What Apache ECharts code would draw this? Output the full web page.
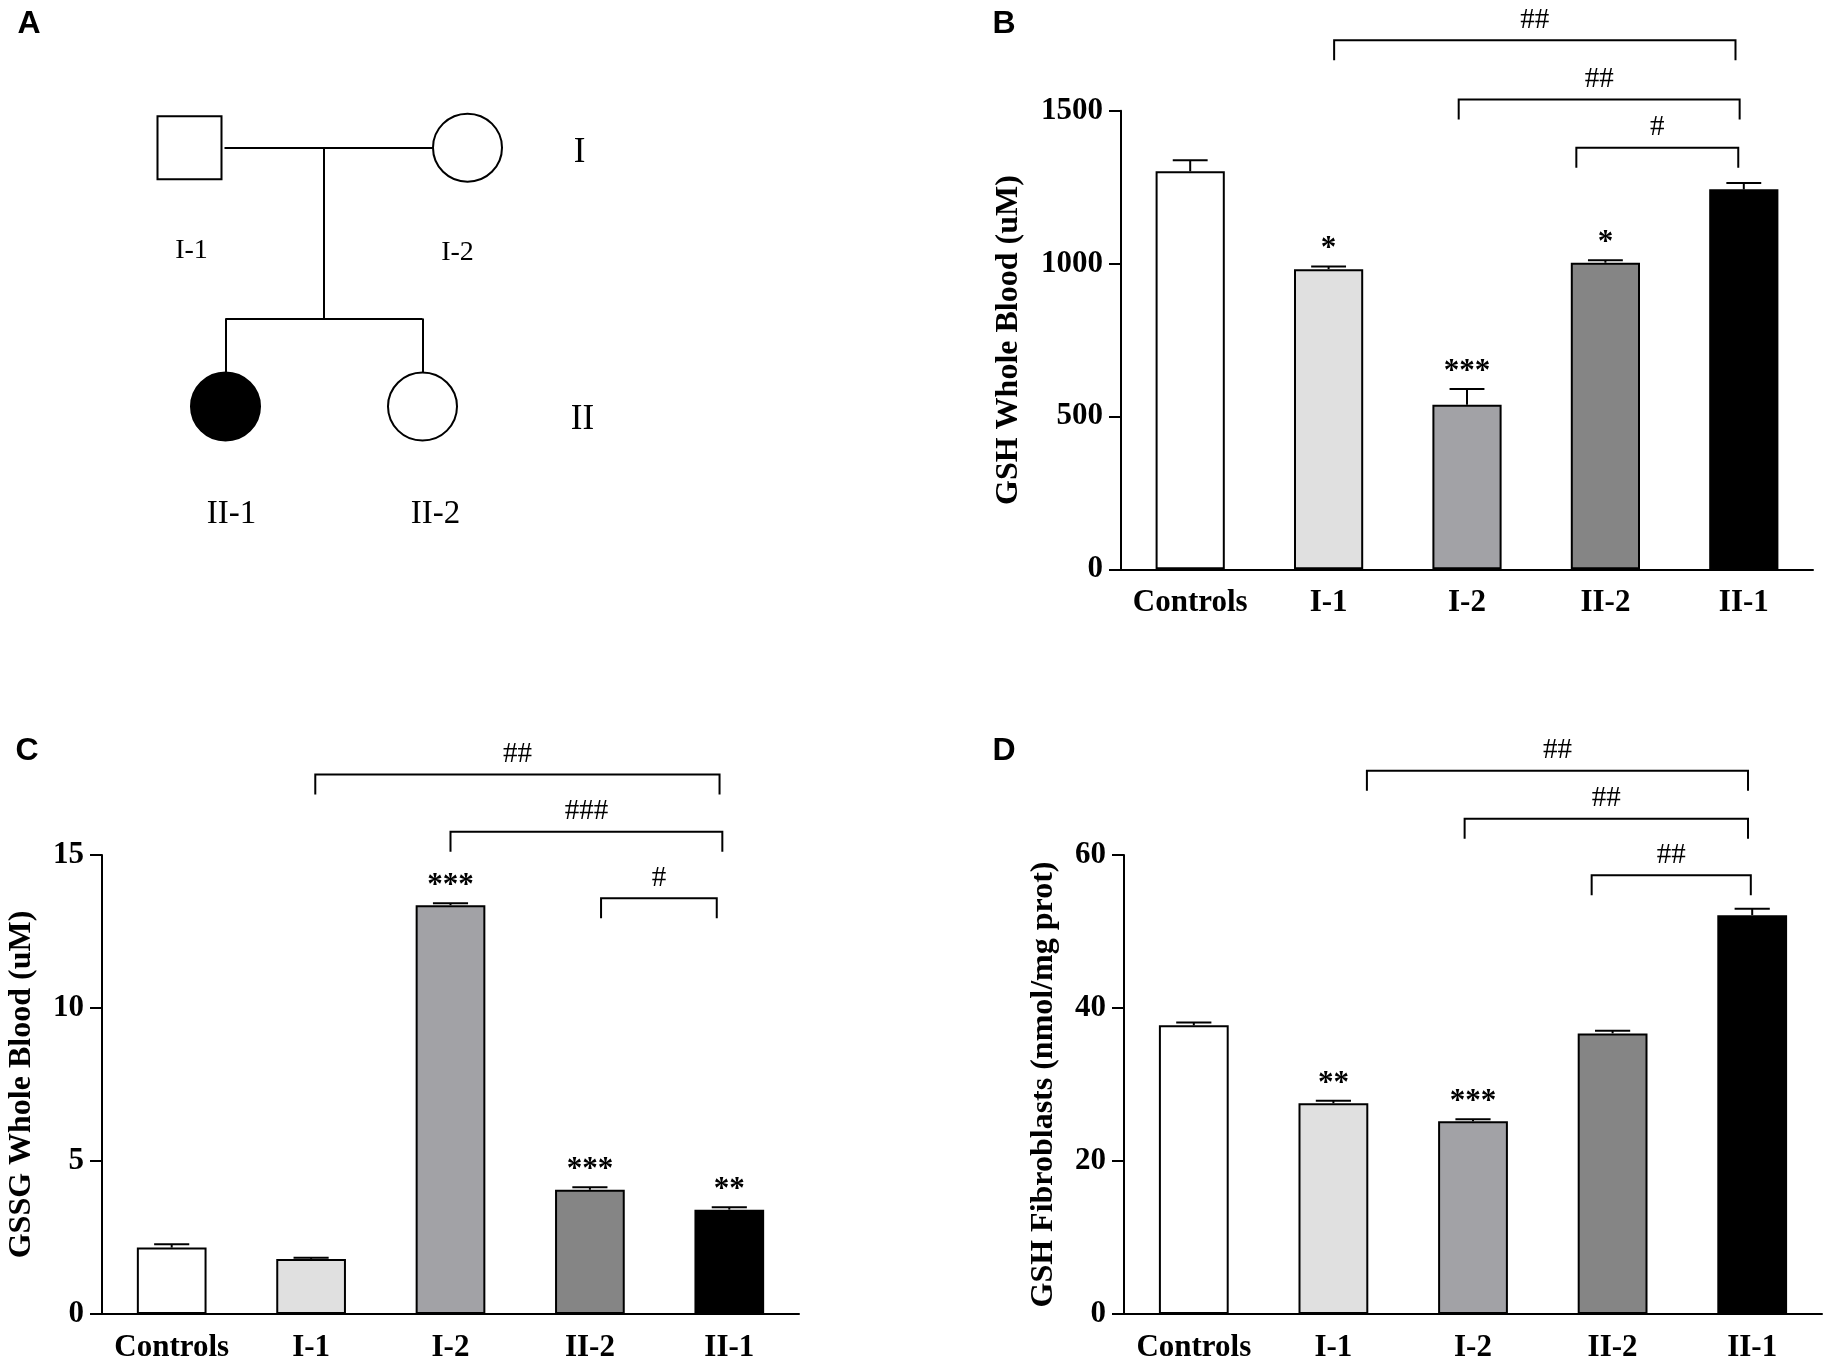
<!DOCTYPE html>
<html>
<head>
<meta charset="utf-8">
<title>Pedigree and glutathione levels</title>
<script src="https://cdn.jsdelivr.net/npm/echarts@6/dist/echarts.min.js"></script>
<style>
  html, body { margin: 0; padding: 0; background: #fff; }
  #chart { width: 1823px; height: 1363px; }
</style>
</head>
<body>
<div id="chart"></div>
<script>
// groups on the x axis (same order in B, C, D)
var groups = ['Controls', 'I-1', 'I-2', 'II-2', 'II-1'];

// B: GSH whole blood (uM)
var gshBloodMean = [1302, 982, 538, 1003, 1243];
var gshBloodErr = [36, 9, 52, 8, 21];
var gshBloodStars = ['', '*', '***', '*', ''];
var gshBloodTicks = [0, 500, 1000, 1500];
// [from group, to group, height, mark]
var gshBloodBrackets = [[1.04, 3.94, 1731, '##'], [1.94, 3.97, 1537, '##'], [2.79, 3.96, 1379, '#']];

// C: GSSG whole blood (uM)
var gssgBloodMean = [2.17, 1.80, 13.36, 4.06, 3.41];
var gssgBloodErr = [0.11, 0.04, 0.06, 0.08, 0.08];
var gssgBloodStars = ['', '', '***', '***', '**'];
var gssgBloodTicks = [0, 5, 10, 15];
var gssgBloodBrackets = [[1.03, 3.93, 17.63, '##'], [2.0, 3.95, 15.76, '###'], [3.08, 3.91, 13.59, '#']];

// D: GSH fibroblasts (nmol/mg prot)
var gshFibroMean = [37.73, 27.55, 25.19, 36.68, 52.14];
var gshFibroErr = [0.38, 0.33, 0.27, 0.33, 0.82];
var gshFibroStars = ['', '**', '***', '', ''];
var gshFibroTicks = [0, 20, 40, 60];
var gshFibroBrackets = [[1.24, 3.97, 71.0, '##'], [1.94, 3.97, 64.73, '##'], [2.85, 3.99, 57.36, '##']];

// A: pedigree, in generation units
var pedMembers = ['I-1', 'I-2', 'II-1', 'II-2'];
var pedX = [1.0, 3.78, 1.36, 3.33];
var pedY = [1, 1, 2, 2];
var pedShape = ['rect', 'circle', 'circle', 'circle'];
var pedAffected = [false, false, true, false];
var pedLinks = [
  [[1.35, 1], [3.43, 1]],
  [[2.34, 1], [2.34, 1.66]],
  [[1.36, 1.66], [3.33, 1.66]],
  [[1.36, 1.66], [1.36, 1.87]],
  [[3.33, 1.66], [3.33, 1.87]]
];
var genLabels = ['I', 'II'];
var genX = [4.9, 4.93];
var genY = [1.02, 2.05];

var barColors = ['#ffffff', '#e0e0e0', '#a2a2a6', '#858585', '#000000'];
var pedLabelDx = [2, -10, 6, 13];   // small nudges of the member labels, px
var serif = 'Liberation Serif';

var chart = echarts.init(document.getElementById('chart'));

function xAxisFor(gridIndex) {
  return {
    type: 'category',
    gridIndex: gridIndex,
    data: groups,
    axisLine: { lineStyle: { color: '#000', width: 2 } },
    axisTick: { alignWithLabel: true, length: 12, lineStyle: { color: '#000', width: 2 } },
    axisLabel: { interval: 0, color: '#000', fontFamily: serif, fontWeight: 'bold', fontSize: 31, margin: 18 }
  };
}

function yAxisFor(gridIndex, ticks, name, gap) {
  return {
    type: 'value',
    gridIndex: gridIndex,
    min: ticks[0],
    max: ticks[ticks.length - 1],
    interval: ticks[1] - ticks[0],
    name: name,
    nameLocation: 'middle',
    nameGap: gap,
    nameTextStyle: { color: '#000', fontFamily: serif, fontWeight: 'bold', fontSize: 32 },
    axisLine: { show: true, lineStyle: { color: '#000', width: 2 } },
    axisTick: { show: true, length: 12, lineStyle: { color: '#000', width: 2 } },
    axisLabel: {
      color: '#000', fontFamily: serif, fontWeight: 'bold', fontSize: 31, margin: 18,
      formatter: function (v) { return String(v); }
    },
    splitLine: { show: false }
  };
}

function barSeries(gridIndex, means) {
  return {
    type: 'bar',
    xAxisIndex: gridIndex,
    yAxisIndex: gridIndex,
    barWidth: '50%',
    data: means.map(function (v, i) {
      return { value: v, itemStyle: { color: barColors[i] } };
    }),
    itemStyle: { borderColor: '#000', borderWidth: 2 }
  };
}

// upper error bar plus significance stars
function errorSeries(gridIndex, means, errs, stars) {
  return {
    type: 'custom',
    xAxisIndex: gridIndex,
    yAxisIndex: gridIndex,
    z: 5,
    encode: { x: 0, y: 1 },
    data: means.map(function (m, i) { return [i, m, errs[i]]; }),
    renderItem: function (params, api) {
      var i = api.value(0);
      var mean = api.value(1);
      var top = api.coord([i, mean + api.value(2)]);
      var base = api.coord([i, mean]);
      var half = api.size([1, 0])[0] * 0.126;
      var line = { stroke: '#000', lineWidth: 2 };
      return {
        type: 'group',
        children: [
          { type: 'line', shape: { x1: top[0], y1: base[1], x2: top[0], y2: top[1] }, style: line },
          { type: 'line', shape: { x1: top[0] - half, y1: top[1], x2: top[0] + half, y2: top[1] }, style: line },
          {
            type: 'text',
            style: {
              text: stars[params.dataIndex], x: top[0], y: top[1] - 17,
              align: 'center', verticalAlign: 'middle',
              font: 'bold 31px ' + serif, fill: '#000'
            }
          }
        ]
      };
    }
  };
}

function panelLetter(letter, x, y) {
  return {
    type: 'text', x: x, y: y,
    style: { text: letter, font: 'bold 32px Liberation Sans', fill: '#000', align: 'center', verticalAlign: 'middle' }
  };
}

var option = {
  backgroundColor: '#fff',
  animation: false,
  grid: [
    { left: 1121, top: 110.8, width: 692, height: 458.5 },
    { left: 102, top: 855, width: 697, height: 461.5 },
    { left: 1124, top: 855, width: 698, height: 461.5 },
    { left: 89.5, top: 18.25, width: 500, height: 517.8 }
  ],
  xAxis: [
    xAxisFor(0), xAxisFor(1), xAxisFor(2),
    { type: 'value', gridIndex: 3, min: 0, max: 5, show: false }
  ],
  yAxis: [
    yAxisFor(0, gshBloodTicks, 'GSH Whole Blood (uM)', 96),
    yAxisFor(1, gssgBloodTicks, 'GSSG Whole Blood (uM)', 64),
    yAxisFor(2, gshFibroTicks, 'GSH Fibroblasts (nmol/mg prot)', 64),
    { type: 'value', gridIndex: 3, min: 0.5, max: 2.5, inverse: true, show: false }
  ],
  series: [
    barSeries(0, gshBloodMean),
    errorSeries(0, gshBloodMean, gshBloodErr, gshBloodStars),
    barSeries(1, gssgBloodMean),
    errorSeries(1, gssgBloodMean, gssgBloodErr, gssgBloodStars),
    barSeries(2, gshFibroMean),
    errorSeries(2, gshFibroMean, gshFibroErr, gshFibroStars),
    {
      type: 'lines',
      coordinateSystem: 'cartesian2d',
      xAxisIndex: 3,
      yAxisIndex: 3,
      lineStyle: { color: '#000', width: 2, opacity: 1, curveness: 0 },
      data: pedLinks.map(function (c) { return { coords: c }; })
    },
    {
      type: 'scatter',
      xAxisIndex: 3,
      yAxisIndex: 3,
      z: 3,
      data: pedMembers.map(function (name, i) {
        return {
          name: name,
          value: [pedX[i], pedY[i]],
          symbol: pedShape[i],
          symbolSize: pedShape[i] === 'rect' ? [64, 63] : [69, 68],
          itemStyle: { color: pedAffected[i] ? '#000' : '#fff', borderColor: '#000', borderWidth: 2, opacity: 1 },
          label: {
            show: true, formatter: name, position: 'bottom', distance: 56, offset: [pedLabelDx[i], 0],
            color: '#000', fontFamily: serif, fontSize: pedY[i] === 1 ? 28 : 33
          }
        };
      })
    },
    {
      type: 'scatter',
      xAxisIndex: 3,
      yAxisIndex: 3,
      symbolSize: 1,
      itemStyle: { color: '#fff', opacity: 1 },
      label: { show: true, position: 'inside', formatter: '{b}', color: '#000', fontFamily: serif, fontSize: 35 },
      data: genLabels.map(function (g, i) { return { name: g, value: [genX[i], genY[i]] }; })
    }
  ]
};

chart.setOption(option);

// significance brackets, placed with the axes' own scales
function groupPixel(gridIndex, pos, value) {
  var i0 = Math.floor(pos);
  var i1 = Math.min(i0 + 1, groups.length - 1);
  var p0 = chart.convertToPixel({ gridIndex: gridIndex }, [i0, value]);
  var p1 = chart.convertToPixel({ gridIndex: gridIndex }, [i1, value]);
  return [p0[0] + (p1[0] - p0[0]) * (pos - i0), p0[1]];
}

var graphics = [
  panelLetter('A', 29, 24),
  panelLetter('B', 1004, 24),
  panelLetter('C', 27, 751),
  panelLetter('D', 1004, 751)
];
[gshBloodBrackets, gssgBloodBrackets, gshFibroBrackets].forEach(function (list, gridIndex) {
  list.forEach(function (b) {
    var a = groupPixel(gridIndex, b[0], b[2]);
    var c = groupPixel(gridIndex, b[1], b[2]);
    graphics.push({
      type: 'polyline',
      shape: { points: [[a[0], a[1] + 20], [a[0], a[1]], [c[0], c[1]], [c[0], c[1] + 20]] },
      style: { stroke: '#000', lineWidth: 2, fill: null }
    });
    graphics.push({
      type: 'text', x: (a[0] + c[0]) / 2, y: a[1] - 20,
      style: { text: b[3], font: '29px ' + serif, fill: '#000', align: 'center', verticalAlign: 'middle' }
    });
  });
});
chart.setOption({ graphic: graphics });
</script>
</body>
</html>
